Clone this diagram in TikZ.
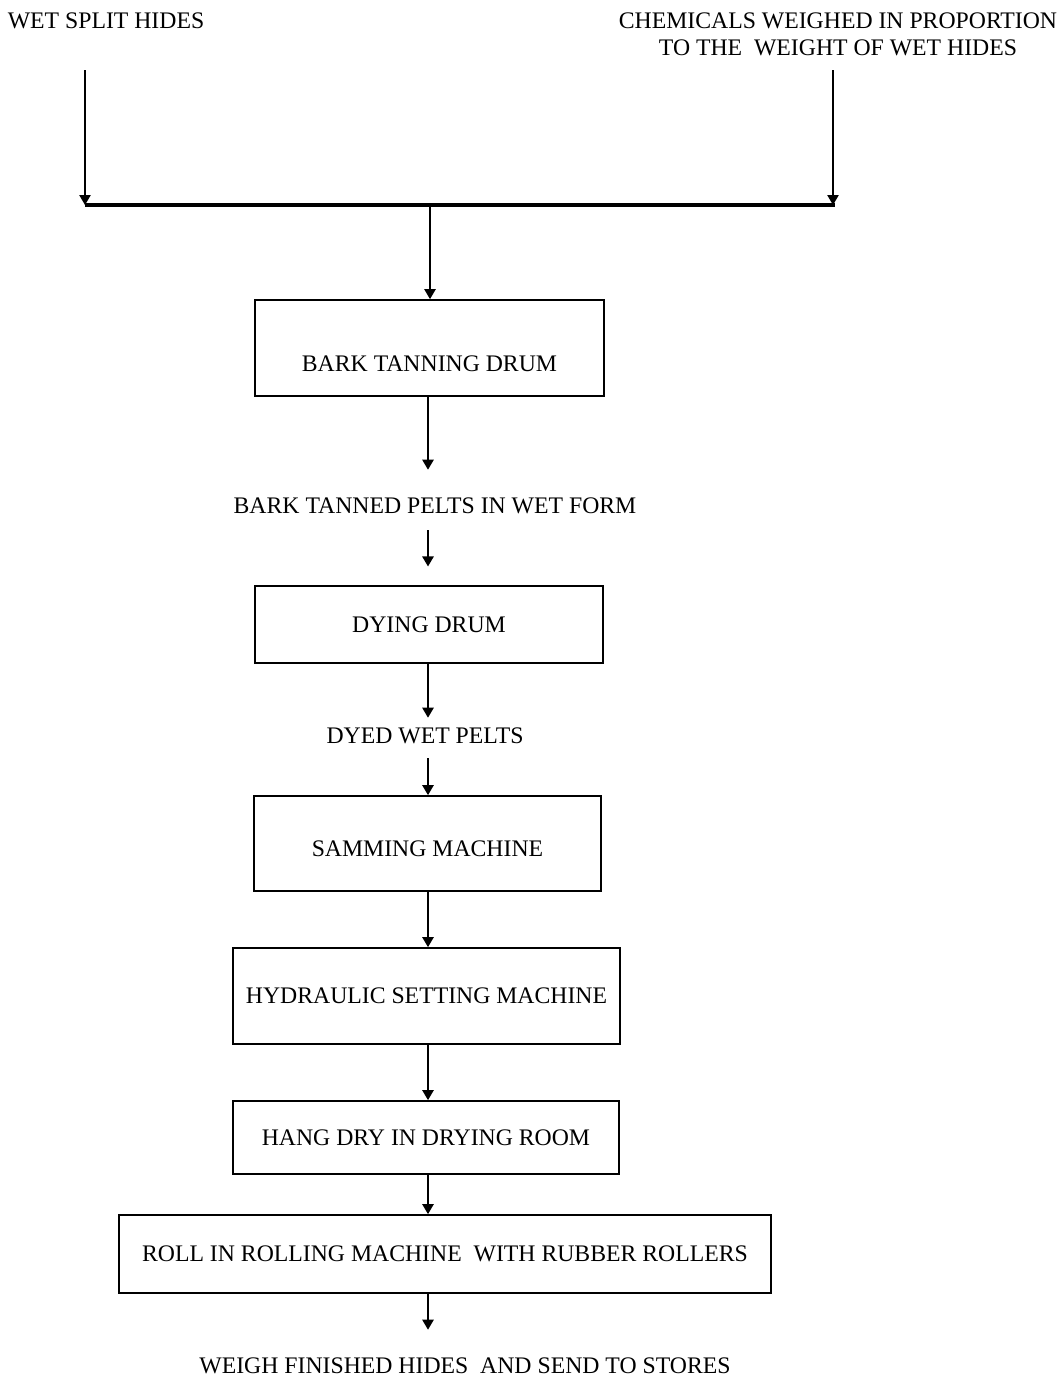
\documentclass[tikz,border=0pt]{standalone}
\usepackage{fontspec}
\setmainfont{Liberation Serif}
\usetikzlibrary{arrows.meta}

\begin{document}
\begin{tikzpicture}[x=0.75pt,y=-0.75pt,
  every node/.style={font=\fontsize{17.8}{20.25}\selectfont},
  stage/.style={draw,line width=1.3pt,inner sep=0pt},
  flowtext/.style={inner sep=0pt},
  arr/.style={line width=1.1pt,-{Triangle[width=8.5pt,length=7.5pt]}}]
\useasboundingbox (0,0) rectangle (1063,1378);
\def\u{0.75pt}
\def\xs{428}

%%%%%inputs start here
\node[flowtext] (hides) at (106,21) {WET SPLIT HIDES};
\node[flowtext,align=center] (chem) at (838,34.5) {CHEMICALS WEIGHED IN PROPORTION\\TO THE\ \ WEIGHT OF WET HIDES};
\coordinate (hidesdrop) at (85,70);
\coordinate (hidesjoin) at (85,205);
\coordinate (chemdrop) at (833,70);
\coordinate (chemjoin) at (835,205);
\coordinate (join) at (430,205);
\coordinate (spine) at (\xs,0);
\draw[arr] (hidesdrop) -- (hidesjoin);
\draw[arr] (chemdrop) -- (chemdrop |- chemjoin);
\draw[line width=2.4pt] (hidesjoin) -- (chemjoin);
%%%%%inputs end here

%%%%%process chain starts here
\node[stage,minimum width=349*\u,minimum height=96*\u,text height=34.5pt,text depth=0pt] (tan) at (429.5,348) {BARK TANNING DRUM};
\node[flowtext] (pelts) at (435,506) {BARK TANNED PELTS IN WET FORM};
\node[stage,minimum width=348*\u,minimum height=77*\u] (dye) at (429,624.5) {DYING DRUM};
\node[flowtext] (dyed) at (425,736) {DYED WET PELTS};
\node[stage,minimum width=347*\u,minimum height=95*\u,text height=20pt,text depth=0pt] (sam) at (427.5,843.5) {SAMMING MACHINE};
\node[stage,minimum width=387*\u,minimum height=96*\u] (hyd) at (426.5,996) {HYDRAULIC SETTING MACHINE};
\node[stage,minimum width=386*\u,minimum height=73*\u] (hang) at (426,1137.5) {HANG DRY IN DRYING ROOM};
\node[stage,minimum width=652*\u,minimum height=78*\u] (roll) at (445,1254) {ROLL IN ROLLING MACHINE\ \ WITH RUBBER ROLLERS};
\node[flowtext] (weigh) at (465,1366) {WEIGH FINISHED HIDES\ \ AND SEND TO STORES};

\draw[arr] (join) -- (join |- tan.north);
\foreach \a/\b/\s/\t in {tan/pelts/0/21,pelts/dye/12/14,dye/dyed/0/7.5,dyed/sam/10.5/0,
  sam/hyd/0/0,hyd/hang/0/0,hang/roll/0/0,roll/weigh/0/21}
  \draw[arr,shorten <=\s pt,shorten >=\t pt] (\a.south -| spine) -- (spine |- \b.north);
%%%%%process chain ends here
\end{tikzpicture}
\end{document}
